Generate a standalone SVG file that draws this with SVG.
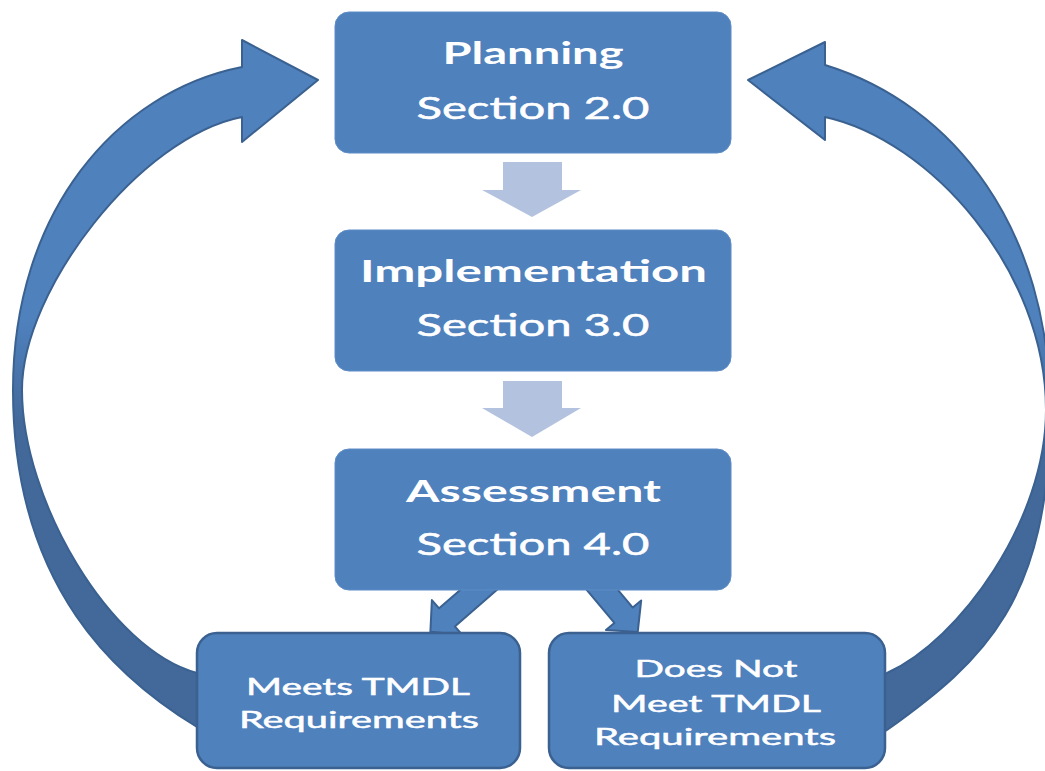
<svg xmlns="http://www.w3.org/2000/svg" width="1045" height="771" viewBox="0 0 1045 771">
  <defs>
    <linearGradient id="bandFill" gradientUnits="userSpaceOnUse" x1="0" y1="320" x2="0" y2="420">
      <stop offset="0" stop-color="#4f81bd"/>
      <stop offset="1" stop-color="#43699b"/>
    </linearGradient>
    <style>
      .step { fill: #4f81bd; stroke: #5d8cc6; stroke-width: 1; }
      .result { fill: #4f81bd; stroke: #3a6190; stroke-width: 2.5; }
      .loop { fill: url(#bandFill); stroke: #3a6190; stroke-width: 2; stroke-linejoin: round; }
      .flow { fill: #b3c3df; }
      .branch { fill: #4f81bd; stroke: #3a6190; stroke-width: 2; stroke-linejoin: round; }
      .title { font-family: Lato, "Liberation Sans", sans-serif; font-weight: bold; font-size: 30px; fill: #ffffff; text-anchor: middle; }
      .sub { font-family: Lato, "Liberation Sans", sans-serif; font-size: 30px; fill: #ffffff; stroke: #ffffff; stroke-width: 0.5; text-anchor: middle; }
      .label { font-family: Lato, "Liberation Sans", sans-serif; font-size: 24px; fill: #ffffff; stroke: #ffffff; stroke-width: 0.5; text-anchor: middle; }
    </style>
  </defs>

  <rect width="1045" height="771" fill="#ffffff"/>

  <g id="connectors">
    <!-- feedback loop back to Planning, left side -->
    <path class="loop" d="M 318,80 L 242,40 L 242,67 C 116,92 13,212 13,390 C 13,590 120,680 197,727 L 215,738 L 215,680 L 197,673 C 110,650 22,500 22,390 C 22,290 140,137 242,117 L 242,142 Z"/>
    <!-- feedback loop back to Planning, right side -->
    <path class="loop" d="M 748,80 L 825,42 L 825,65 C 955,105 1050,230 1050,410 C 1050,600 985,660 887,730 L 870,740 L 870,680 L 887,673 C 960,640 1046,520 1046,410 C 1046,270 930,140 825,117 L 825,140 Z"/>
    <!-- step to step arrows -->
    <polygon class="flow" points="503,162 562,162 562,190 581,190 532,217 482,190 503,190"/>
    <polygon class="flow" points="503,381 562,381 562,408 581,408 532,437 482,408 503,408"/>
    <!-- branches out of Assessment -->
    <polygon class="branch" transform="translate(490,580) rotate(139)" points="0,-12 57,-12 57,-23 79,0 57,23 57,12 0,12"/>
    <polygon class="branch" transform="translate(594,580) rotate(50)" points="0,-12 46,-12 46,-23 68,0 46,23 46,12 0,12"/>
  </g>

  <g id="planning">
    <rect class="step" x="335" y="12" width="396" height="141" rx="14"/>
    <text class="title" x="533" y="63.5" textLength="181" lengthAdjust="spacingAndGlyphs">Planning</text>
    <text class="sub" x="533" y="118.5" textLength="233" lengthAdjust="spacingAndGlyphs">Section 2.0</text>
  </g>

  <g id="implementation">
    <rect class="step" x="335" y="230" width="396" height="141" rx="14"/>
    <text class="title" x="533.5" y="281.5" textLength="347" lengthAdjust="spacingAndGlyphs">Implementation</text>
    <text class="sub" x="533" y="336" textLength="233" lengthAdjust="spacingAndGlyphs">Section 3.0</text>
  </g>

  <g id="assessment">
    <rect class="step" x="335" y="449" width="396" height="141" rx="14"/>
    <text class="title" x="533.5" y="501.5" textLength="255" lengthAdjust="spacingAndGlyphs">Assessment</text>
    <text class="sub" x="533" y="555" textLength="233" lengthAdjust="spacingAndGlyphs">Section 4.0</text>
  </g>

  <g id="meets">
    <rect class="result" x="197" y="633" width="323" height="135" rx="20"/>
    <text class="label" x="358" y="695" textLength="224" lengthAdjust="spacingAndGlyphs">Meets TMDL</text>
    <text class="label" x="359" y="728" textLength="240" lengthAdjust="spacingAndGlyphs">Requirements</text>
  </g>

  <g id="does-not-meet">
    <rect class="result" x="549" y="633" width="336" height="135" rx="20"/>
    <text class="label" x="716" y="677" textLength="163" lengthAdjust="spacingAndGlyphs">Does Not</text>
    <text class="label" x="716" y="712" textLength="210" lengthAdjust="spacingAndGlyphs">Meet TMDL</text>
    <text class="label" x="715" y="745" textLength="242" lengthAdjust="spacingAndGlyphs">Requirements</text>
  </g>
</svg>
